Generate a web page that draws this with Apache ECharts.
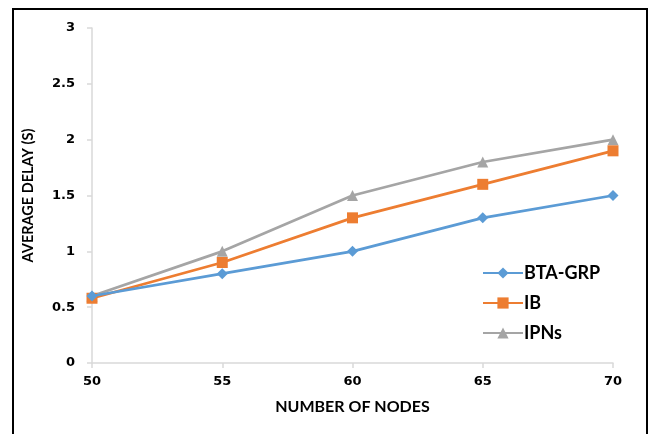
<!DOCTYPE html>
<html>
<head>
<meta charset="utf-8">
<script src="https://cdn.jsdelivr.net/npm/echarts@6/dist/echarts.min.js"></script>
<style>html,body{margin:0;padding:0;background:#fff;}#c{width:653px;height:434px;}</style>
</head>
<body>
<div id="c"></div>
<script>
const categories = ['50', '55', '60', '65', '70'];
const btaGrp = [0.6, 0.8, 1.0, 1.3, 1.5];
const ib = [0.58, 0.9, 1.3, 1.6, 1.9];
const ipns = [0.6, 1.0, 1.5, 1.8, 2.0];
const seriesNames = ['BTA-GRP', 'IB', 'IPNs'];
const xTitle = 'NUMBER OF NODES';
const yTitle = 'AVERAGE DELAY (S)';

const chart = echarts.init(document.getElementById('c'), null, {renderer: 'canvas'});
const axisColor = '#d9d9d9';
chart.setOption({
  animation: false,
  backgroundColor: '#fff',
  grid: {left: 92, right: 40, top: 28, bottom: 71, containLabel: false},
  graphic: [{
    type: 'rect', z: 100, silent: true,
    shape: {x: 13, y: 9, width: 634, height: 440},
    style: {fill: 'none', stroke: '#000', lineWidth: 2}
  }],
  legend: {
    orient: 'vertical', left: 477, top: 259, itemGap: 12,
    itemWidth: 40, itemHeight: 14,
    data: seriesNames,
    textStyle: {fontFamily: 'Lato', fontWeight: 'bold', fontSize: 18, color: '#000', padding: [0,0,0,-4]}
  },
  xAxis: {
    type: 'category', data: categories, boundaryGap: false,
    name: xTitle, nameLocation: 'middle', nameGap: 36,
    nameTextStyle: {fontFamily: 'Lato', fontWeight: 'bold', fontSize: 16, color: '#000'},
    axisLine: {lineStyle: {color: axisColor, width: 1.5}},
    axisTick: {show: true, alignWithLabel: true, length: 5, lineStyle: {color: axisColor, width: 1.5}},
    axisLabel: {fontFamily: 'DejaVu Sans', fontWeight: 'bold', fontSize: 13, color: '#000', margin: 12},
    splitLine: {show: false}
  },
  yAxis: {
    type: 'value', min: 0, max: 3, interval: 0.5,
    name: yTitle, nameLocation: 'middle', nameGap: 56, nameRotate: 90,
    nameTextStyle: {fontFamily: 'Lato', fontWeight: 'bold', fontSize: 14.5, color: '#000'},
    axisLine: {show: true, lineStyle: {color: axisColor, width: 1.5}},
    axisTick: {show: true, length: 5, lineStyle: {color: axisColor, width: 1.5}},
    axisLabel: {fontFamily: 'DejaVu Sans', fontWeight: 'bold', fontSize: 13, color: '#000', margin: 17},
    splitLine: {show: false}
  },
  series: [
    {name: seriesNames[0], type: 'line', data: btaGrp, symbol: 'diamond', symbolSize: 11,
     lineStyle: {color: '#5b9bd5', width: 2.75}, itemStyle: {color: '#5b9bd5'}, z: 3},
    {name: seriesNames[1], type: 'line', data: ib, symbol: 'rect', symbolSize: 11,
     lineStyle: {color: '#ed7d31', width: 2.75}, itemStyle: {color: '#ed7d31'}, z: 2},
    {name: seriesNames[2], type: 'line', data: ipns, symbol: 'triangle', symbolSize: 11,
     lineStyle: {color: '#a5a5a5', width: 2.75}, itemStyle: {color: '#a5a5a5'}, z: 1}
  ]
});
</script>
</body>
</html>
